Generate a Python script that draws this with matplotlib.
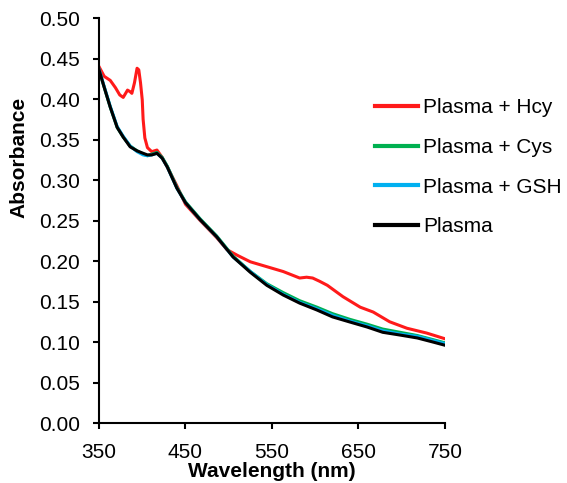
import matplotlib.pyplot as plt

plt.rcParams['font.family'] = ['Liberation Sans', 'DejaVu Sans']

# wavelength grid (nm) for the three plasma curves
wl = [350, 357, 363, 371, 378, 386, 394, 401, 406, 411, 417, 423, 429, 440, 450,
      467, 486, 505, 525, 544, 563, 582, 602, 620, 640, 660, 678, 698, 718, 736, 750]
plasma = [0.436, 0.411, 0.390, 0.365, 0.353, 0.341, 0.336, 0.333, 0.331, 0.331, 0.333,
          0.327, 0.316, 0.290, 0.272, 0.251, 0.230, 0.205, 0.186, 0.170, 0.158, 0.148,
          0.1395, 0.131, 0.1247, 0.1185, 0.112, 0.1086, 0.105, 0.100, 0.096]
plasma_cys = [0.436, 0.411, 0.390, 0.365, 0.353, 0.342, 0.336, 0.332, 0.330, 0.332, 0.334,
              0.328, 0.317, 0.291, 0.273, 0.252, 0.231, 0.206, 0.187, 0.172, 0.161, 0.151,
              0.143, 0.135, 0.128, 0.122, 0.116, 0.112, 0.108, 0.103, 0.099]
plasma_gsh = [0.437, 0.412, 0.391, 0.366, 0.354, 0.342, 0.335, 0.331, 0.330, 0.331, 0.333,
              0.327, 0.316, 0.290, 0.272, 0.251, 0.230, 0.205, 0.187, 0.171, 0.159, 0.149,
              0.141, 0.133, 0.126, 0.120, 0.114, 0.110, 0.107, 0.102, 0.098]

# Hcy curve has its own grid (sharp peak near 395 nm)
wl_hcy = [350, 356, 363, 369, 374, 378, 383, 386, 388, 391, 394, 396, 398, 400, 401, 403,
          406, 411, 417, 423, 429, 440, 450, 467, 486, 498, 510, 525, 544, 563, 582, 590,
          597, 605, 614, 632, 652, 667, 686, 706, 729, 750]
plasma_hcy = [0.440, 0.428, 0.423, 0.414, 0.405, 0.402, 0.411, 0.409, 0.407, 0.420, 0.438,
              0.436, 0.420, 0.399, 0.375, 0.352, 0.340, 0.335, 0.337, 0.328, 0.316, 0.293,
              0.270, 0.250, 0.229, 0.214, 0.207, 0.199, 0.193, 0.187, 0.179, 0.180, 0.179,
              0.175, 0.170, 0.156, 0.143, 0.137, 0.125, 0.117, 0.111, 0.104]

x_ticks = [350, 450, 550, 650, 750]
y_ticks = [i * 0.05 for i in range(11)]

fig = plt.figure(figsize=(5.67, 4.83), dpi=100)
ax = fig.add_axes([0.1746, 0.1242, 0.6102, 0.8385])

ax.plot(wl_hcy, plasma_hcy, color='#FF1A1A', lw=2.2, label='Plasma + Hcy')
ax.plot(wl, plasma_cys, color='#00B050', lw=2.2, label='Plasma + Cys')
ax.plot(wl, plasma_gsh, color='#00B0F0', lw=2.2, label='Plasma + GSH')
ax.plot(wl, plasma, color='black', lw=2.2, label='Plasma')

ax.set_xlim(350, 750)
ax.set_ylim(0, 0.5)
ax.set_xticks(x_ticks)
ax.set_yticks(y_ticks)
ax.set_yticklabels(['%.2f' % v for v in y_ticks])
ax.tick_params(labelsize=15, width=1.5, length=4.5, direction='out')
ax.tick_params(axis='x', pad=10)
ax.tick_params(axis='y', pad=9)
for s in ['top', 'right']:
    ax.spines[s].set_visible(False)
for s in ['left', 'bottom']:
    ax.spines[s].set_linewidth(1.5)

ax.set_xlabel('Wavelength (nm)', fontsize=15, fontweight='bold', labelpad=0)
# y label sits above the axis centre in the original
fig.text(19 / 567, 1 - 157.5 / 483, 'Absorbance', rotation=90, fontsize=15,
         fontweight='bold', ha='center', va='center')

fig.legend(loc='upper left', bbox_to_anchor=(375 / 567, 1 - 98 / 483), frameon=False,
           fontsize=15, handlelength=2.07, handletextpad=0.25, labelspacing=1.0,
           borderpad=0, borderaxespad=0)
for line in fig.legends[0].get_lines():
    line.set_linewidth(3)

plt.savefig('out.png', dpi=100)
